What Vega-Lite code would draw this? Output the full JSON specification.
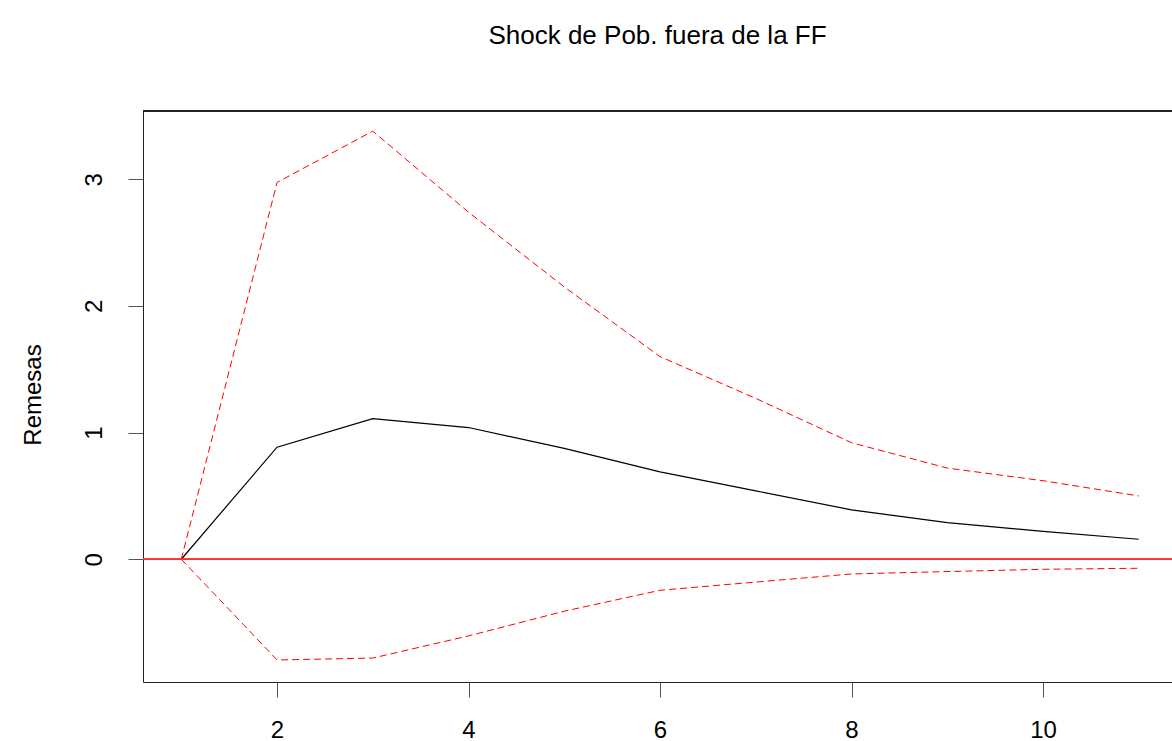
{
  "$schema": "https://vega.github.io/schema/vega-lite/v6.json",
  "width": 1029,
  "height": 571,
  "padding": {"left": 143, "top": 111, "right": 0, "bottom": 59},
  "autosize": {"type": "none"},
  "background": "white",
  "config": {"view": {"stroke": null}, "font": "Liberation Sans"},
  "title": {
    "text": "Shock de Pob. fuera de la FF",
    "fontSize": 26,
    "fontWeight": "normal",
    "color": "#000000",
    "anchor": "middle",
    "frame": "group",
    "baseline": "alphabetic",
    "offset": 41
  },
  "data": {
    "values": [
      {"h": 1, "irf": 0, "lower": 0, "upper": 0},
      {"h": 2, "irf": 0.885, "lower": -0.795, "upper": 2.975},
      {"h": 3, "irf": 1.11, "lower": -0.78, "upper": 3.38},
      {"h": 4, "irf": 1.04, "lower": -0.605, "upper": 2.74},
      {"h": 5, "irf": 0.875, "lower": -0.41, "upper": 2.15},
      {"h": 6, "irf": 0.69, "lower": -0.245, "upper": 1.6},
      {"h": 7, "irf": 0.54, "lower": -0.18, "upper": 1.27},
      {"h": 8, "irf": 0.39, "lower": -0.116, "upper": 0.92},
      {"h": 9, "irf": 0.29, "lower": -0.097, "upper": 0.72},
      {"h": 10, "irf": 0.22, "lower": -0.079, "upper": 0.62},
      {"h": 11, "irf": 0.158, "lower": -0.071, "upper": 0.5}
    ]
  },
  "layer": [
    {
      "mark": {"type": "line", "color": "#000000", "strokeWidth": 1.2},
      "encoding": {
        "x": {
          "field": "h",
          "type": "quantitative",
          "scale": {"domain": [0.6, 11.347], "nice": false, "zero": false},
          "axis": {
            "values": [2, 4, 6, 8, 10],
            "format": "d",
            "grid": false,
            "title": null,
            "labelFontSize": 24,
            "labelColor": "#000000",
            "labelBaseline": "middle",
            "labelPadding": 33,
            "labelFlush": false,
            "tickSize": 15,
            "tickColor": "#555555",
            "domainColor": "#222222"
          }
        },
        "y": {
          "field": "irf",
          "type": "quantitative",
          "scale": {"domain": [-0.969, 3.539], "nice": false, "zero": false},
          "axis": {
            "values": [0, 1, 2, 3],
            "format": "d",
            "grid": false,
            "title": "Remesas",
            "titleFontSize": 24,
            "titleFontWeight": "normal",
            "titleColor": "#000000",
            "titleAngle": 270,
            "titleAlign": "center",
            "titleBaseline": "middle",
            "titleX": -110,
            "titleY": 283.5,
            "labelFontSize": 24,
            "labelColor": "#000000",
            "labelAngle": 270,
            "labelAlign": "center",
            "labelBaseline": "middle",
            "labelPadding": 34,
            "tickSize": 15,
            "tickColor": "#555555",
            "domainColor": "#222222"
          }
        }
      }
    },
    {
      "mark": {"type": "line", "color": "#ff0000", "strokeWidth": 1, "strokeDash": [7, 4]},
      "encoding": {
        "x": {"field": "h", "type": "quantitative"},
        "y": {"field": "upper", "type": "quantitative"}
      }
    },
    {
      "mark": {"type": "line", "color": "#ff0000", "strokeWidth": 1, "strokeDash": [7, 4]},
      "encoding": {
        "x": {"field": "h", "type": "quantitative"},
        "y": {"field": "lower", "type": "quantitative"}
      }
    },
    {
      "mark": {"type": "rule", "color": "#ff3333", "strokeWidth": 1, "opacity": 0.85},
      "encoding": {"y": {"datum": 0}}
    },
    {
      "mark": {"type": "rule", "color": "#222222", "strokeWidth": 1},
      "encoding": {"y": {"datum": 3.539}}
    }
  ]
}
